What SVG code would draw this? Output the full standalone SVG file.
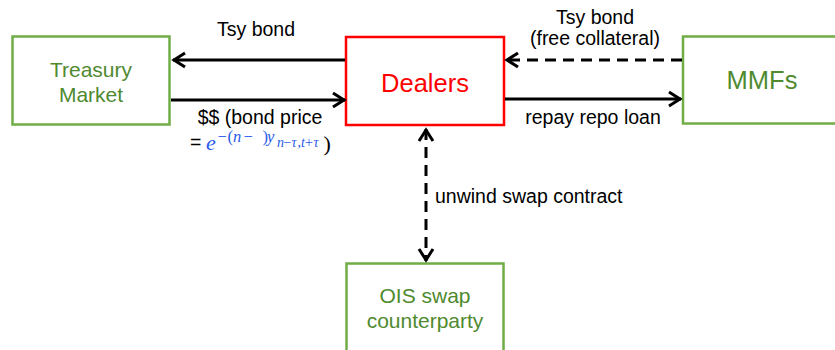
<svg xmlns="http://www.w3.org/2000/svg" width="835" height="350" viewBox="0 0 835 350">
<style>
.box{fill:#fff;stroke-width:2.5}
.g{stroke:#70AD47}
.r{stroke:#FF0000}
.nt{font-family:"Liberation Sans",Arial,sans-serif;text-anchor:middle}
.gt{fill:#4F8A2F;font-size:21px}
.lbl{font-family:"Liberation Sans",Arial,sans-serif;font-size:19.5px;fill:#000}
.c{text-anchor:middle}
.ln{fill:none;stroke:#000;stroke-width:3}
.d{stroke-dasharray:11 7}
.m{font-family:"Liberation Serif","Times New Roman",serif;fill:#2A5BE8}
</style>
<defs>
<marker id="ah" markerUnits="userSpaceOnUse" viewBox="-14 -10 16 20" markerWidth="16" markerHeight="20" refX="0" refY="0" orient="auto-start-reverse">
<path d="M-12,-7 L-1,0 L-12,7" fill="none" stroke="#000" stroke-width="3" stroke-dasharray="none"/>
</marker>
</defs>
<g id="treasury">
<rect class="box g" x="12.5" y="36.5" width="157" height="88"/>
<text class="nt gt" x="91" y="77">Treasury</text>
<text class="nt gt" x="91" y="102">Market</text>
</g>
<g id="dealers">
<rect class="box r" x="346" y="37" width="158" height="88"/>
<text class="nt" x="425" y="91.5" font-size="25.5" fill="#FF0000">Dealers</text>
</g>
<g id="mmfs">
<rect class="box g" x="683" y="36.5" width="158" height="87"/>
<text class="nt" x="762" y="88.5" font-size="25.5" fill="#4F8A2F">MMFs</text>
</g>
<g id="ois">
<rect class="box g" x="346.5" y="263.5" width="157" height="100"/>
<text class="nt gt" x="425" y="302.5" font-size="21.5">OIS swap</text>
<text class="nt gt" x="425" y="328" font-size="21.5">counterparty</text>
</g>
<g id="connectors">
<line class="ln" x1="345" y1="60" x2="173" y2="60" marker-end="url(#ah)"/>
<line class="ln" x1="171" y1="100" x2="345" y2="100" marker-end="url(#ah)"/>
<line class="ln d" x1="682" y1="60" x2="506" y2="60" marker-end="url(#ah)"/>
<line class="ln" x1="505" y1="99" x2="681" y2="99" marker-end="url(#ah)"/>
<line class="ln d" x1="426" y1="129" x2="426" y2="261" marker-start="url(#ah)" marker-end="url(#ah)"/>
</g>
<g id="labels">
<text class="lbl c" x="256" y="36">Tsy bond</text>
<text class="lbl c" x="260" y="123.5">$$ (bond price</text>
<text class="lbl" x="190" y="149">=</text>
<text class="m" x="206" y="149.5" font-size="22" font-style="italic">e</text>
<text class="m" font-size="16.5" y="141.5"><tspan x="217.5">−</tspan><tspan x="227.5">(</tspan><tspan x="233" font-style="italic">n</tspan><tspan x="243.5">−</tspan><tspan x="262.5">)</tspan><tspan x="267" font-style="italic">y</tspan></text>
<text class="m" font-size="14" y="147"><tspan x="277" font-style="italic">n</tspan><tspan x="283.5">−</tspan><tspan x="291.5" font-style="italic">τ</tspan><tspan x="297.5">,</tspan><tspan x="301" font-style="italic">t</tspan><tspan x="305">+</tspan><tspan x="313.5" font-style="italic">τ</tspan></text>
<text x="323.5" y="150.5" font-family="'Liberation Serif',serif" font-size="22" fill="#000">)</text>
<text class="lbl c" x="595" y="24">Tsy bond</text>
<text class="lbl c" x="595" y="45">(free collateral)</text>
<text class="lbl c" x="593" y="124">repay repo loan</text>
<text class="lbl" x="435" y="203" font-size="20">unwind swap contract</text>
</g>
</svg>
